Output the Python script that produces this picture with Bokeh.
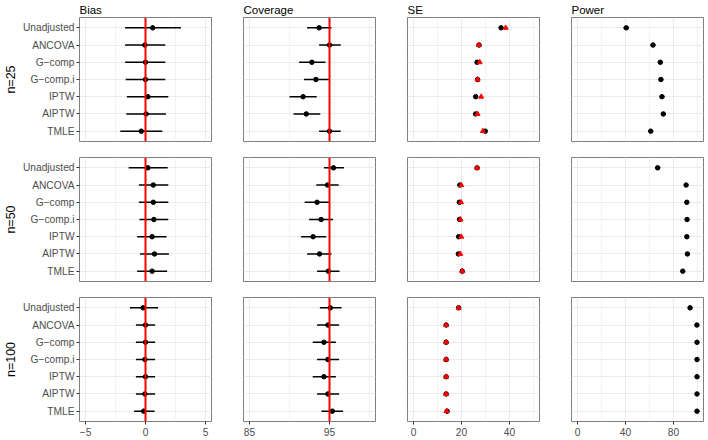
from bokeh.plotting import figure
from bokeh.layouts import gridplot
from bokeh.models import Range1d, FixedTicker, Span, ColumnDataSource
from bokeh.embed import file_html
from bokeh.resources import INLINE

# ---------------- data ----------------
methods = ["Unadjusted", "ANCOVA", "G\u2212comp", "G\u2212comp.i", "IPTW", "AIPTW", "TMLE"]
sample_sizes = ["n=25", "n=50", "n=100"]
panel_titles = ["Bias", "Coverage", "SE", "Power"]

bias_est = [[0.6, -0.05, 0.0, 0.0, 0.2, 0.05, -0.35],
            [0.2, 0.65, 0.65, 0.7, 0.55, 0.75, 0.55],
            [-0.2, 0.0, 0.0, -0.05, 0.0, -0.05, -0.15]]
bias_lo = [[-1.7, -1.7, -1.7, -1.65, -1.55, -1.6, -2.1],
           [-1.4, -0.55, -0.55, -0.5, -0.7, -0.45, -0.7],
           [-1.3, -0.8, -0.8, -0.8, -0.8, -0.8, -0.95]]
bias_hi = [[2.95, 1.65, 1.65, 1.65, 1.9, 1.7, 1.4],
           [1.85, 1.9, 1.9, 1.9, 1.75, 1.95, 1.8],
           [1.05, 0.8, 0.8, 0.8, 0.8, 0.8, 0.75]]

cov_est = [[93.7, 95.0, 92.8, 93.3, 91.7, 92.1, 95.0],
           [95.5, 94.75, 93.45, 93.95, 92.95, 93.75, 94.85],
           [95.1, 94.8, 94.3, 94.8, 94.3, 94.8, 95.35]]
cov_lo = [[92.2, 93.7, 91.2, 91.8, 90.0, 90.5, 93.7],
          [94.3, 93.35, 91.9, 92.45, 91.45, 92.2, 93.45],
          [93.8, 93.45, 92.9, 93.45, 92.9, 93.45, 94.0]]
cov_hi = [[95.25, 96.4, 94.5, 95.0, 93.4, 93.85, 96.4],
          [96.8, 96.15, 95.05, 95.45, 94.6, 95.25, 96.25],
          [96.5, 96.2, 95.8, 96.2, 95.8, 96.2, 96.7]]

se_empirical = [[36.5, 27.3, 26.5, 26.7, 25.9, 25.9, 29.9],
                [26.5, 19.3, 19.1, 19.2, 18.8, 18.7, 20.3],
                [18.8, 13.6, 13.6, 13.6, 13.6, 13.6, 14.0]]
se_model = [[38.4, 27.3, 27.6, 26.7, 28.2, 26.7, 28.9],
            [26.5, 19.9, 19.8, 19.6, 19.9, 19.5, 20.3],
            [18.8, 13.6, 13.6, 13.6, 13.6, 13.6, 13.8]]

power_est = [[40.6, 62.9, 69.0, 69.5, 70.4, 71.5, 61.0],
             [66.8, 90.5, 91.1, 91.3, 91.1, 91.6, 87.7],
             [93.8, 99.5, 99.6, 99.6, 99.6, 99.6, 99.6]]
power_lo = [[38.4, 60.9, 67.0, 67.5, 68.4, 69.6, 59.0],
            [64.7, 89.2, 89.8, 90.0, 89.8, 90.4, 86.2],
            [92.7, 99.1, 99.2, 99.2, 99.2, 99.2, 99.2]]
power_hi = [[42.8, 64.9, 71.0, 71.5, 72.4, 73.4, 63.0],
            [68.9, 91.8, 92.4, 92.6, 92.4, 92.8, 89.2],
            [94.9, 99.9, 100.0, 100.0, 100.0, 100.0, 100.0]]

x_limits = [(-5.5, 5.5), (84.25, 100.75), (-2.5, 52.5), (-5.0, 105.0)]
major_ticks = [[-5, 0, 5], [85, 95], [0, 20, 40], [0, 40, 80]]
minor_ticks = [[-2.5, 2.5], [90, 100], [10, 30, 50], [20, 60, 100]]
ref_lines = [0, 95, None, None]

# ---------------- styling ----------------
FONT = "Liberation Sans"
FRAME_W, FRAME_H = 132, 124
GRID = "#EBEBEB"

ypos = [len(methods) - i for i in range(len(methods))]
ylabels = {y: m for y, m in zip(ypos, methods)}

left_b = [72, 16, 16, 16]
right_b = [16, 16, 16, 2]
top_b = [16, 8, 8]
bottom_b = [8, 8, 17]

rows = []
for r in range(3):
    row = []
    for c in range(4):
        p = figure(frame_width=FRAME_W, frame_height=FRAME_H,
                   output_backend="svg", toolbar_location=None,
                   x_range=Range1d(*x_limits[c]), y_range=Range1d(0.4, 7.6),
                   min_border_left=left_b[c], min_border_right=right_b[c],
                   min_border_top=top_b[r], min_border_bottom=bottom_b[r],
                   title=panel_titles[c] if r == 0 else None,
                   background_fill_color="white", border_fill_color="white")
        if r == 0:
            p.title.text_font = FONT
            p.title.text_font_size = "11.5px"
            p.title.text_font_style = "normal"
            p.title.text_color = "black"
            p.title.align = "left"
            p.title.standoff = 3
            p.title.offset = 0

        p.outline_line_color = "#7F7F7F"
        p.outline_line_width = 1

        xt = FixedTicker(ticks=major_ticks[c], minor_ticks=minor_ticks[c])
        yt = FixedTicker(ticks=ypos)
        p.xaxis.ticker = xt
        p.yaxis.ticker = yt
        p.xgrid.ticker = xt
        p.ygrid.ticker = yt
        p.xgrid.grid_line_color = GRID
        p.xgrid.grid_line_width = 1
        p.xgrid.minor_grid_line_color = GRID
        p.xgrid.minor_grid_line_width = 0.6
        p.ygrid.grid_line_color = GRID
        p.ygrid.grid_line_width = 1

        for ax in (p.xaxis[0], p.yaxis[0]):
            ax.axis_line_color = None
            ax.major_tick_line_color = "#333333"
            ax.major_tick_in = 0
            ax.major_tick_out = 3
            ax.minor_tick_line_color = None
            ax.major_label_text_font = FONT
            ax.major_label_text_font_size = "10.2px"
            ax.major_label_text_color = "#4D4D4D"
            ax.major_label_standoff = 2

        p.xaxis.major_label_overrides = {t: (str(t).replace("-", "\u2212")) for t in major_ticks[c]}
        p.yaxis.major_label_overrides = ylabels

        if c == 0:
            p.yaxis.axis_label = sample_sizes[r]
            p.yaxis.axis_label_text_font = FONT
            p.yaxis.axis_label_text_font_size = "12.5px"
            p.yaxis.axis_label_text_font_style = "normal"
            p.yaxis.axis_label_text_color = "black"
            p.yaxis.axis_label_standoff = 2
        else:
            p.yaxis.visible = False
        if r < 2:
            p.xaxis.visible = False

        if c == 0:
            est, lo, hi = bias_est[r], bias_lo[r], bias_hi[r]
        elif c == 1:
            est, lo, hi = cov_est[r], cov_lo[r], cov_hi[r]
        elif c == 3:
            est, lo, hi = power_est[r], power_lo[r], power_hi[r]

        if c in (0, 1, 3):
            src = ColumnDataSource(dict(y=ypos, est=est, lo=lo, hi=hi))
            p.segment(x0="lo", y0="y", x1="hi", y1="y", source=src,
                      line_color="black", line_width=1.5)
            p.scatter(x="est", y="y", source=src, size=4.5, marker="circle",
                      color="black")
        else:
            src = ColumnDataSource(dict(y=ypos, emp=se_empirical[r], mod=se_model[r]))
            p.scatter(x="emp", y="y", source=src, size=4.5, marker="circle",
                      color="black")
            p.scatter(x="mod", y="y", source=src, size=5, marker="triangle",
                      color="red")

        if ref_lines[c] is not None:
            p.add_layout(Span(location=ref_lines[c], dimension="height",
                              line_color="#FF0000", line_width=2))
        row.append(p)
    rows.append(row)

layout = gridplot(rows, toolbar_location=None)

open("out.html", "w").write(file_html(layout, INLINE))
